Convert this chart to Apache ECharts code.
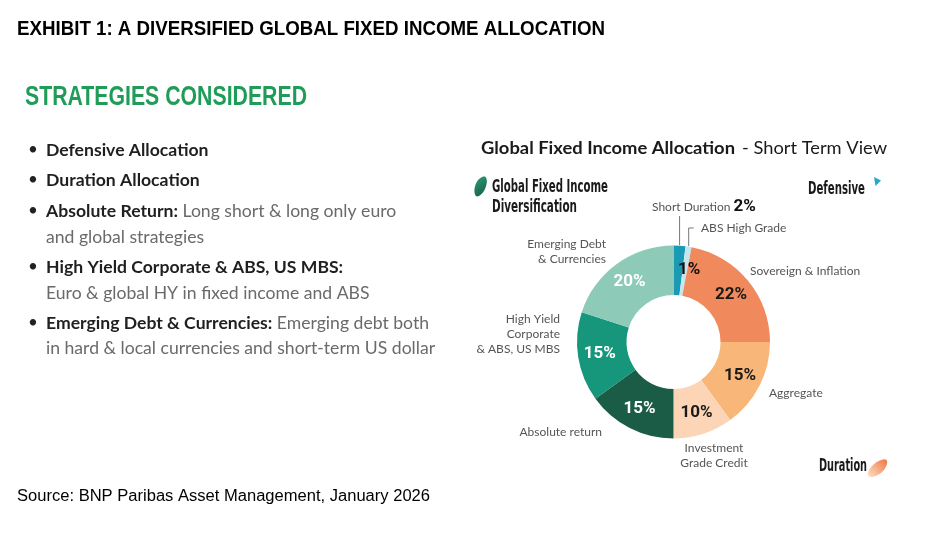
<!DOCTYPE html>
<html><head><meta charset="utf-8">
<script src="https://cdn.jsdelivr.net/npm/echarts@6/dist/echarts.min.js"></script>
<style>html,body{margin:0;padding:0;background:#fff}#c{width:940px;height:543px}</style>
</head><body><div id="c"></div>
<script>
// ---------- DATA ----------
const categories = ['Short Duration','ABS High Grade','Sovereign & Inflation','Aggregate','Investment Grade Credit','Absolute return','High Yield Corporate & ABS, US MBS','Emerging Debt & Currencies'];
const weights = [2, 1, 22, 15, 10, 15, 15, 20];
const labelText = ['Short Duration','ABS High Grade','Sovereign & Inflation','Aggregate','Investment\nGrade Credit','Absolute return','High Yield\nCorporate\n& ABS, US MBS','Emerging Debt\n& Currencies'];
const titleText = 'EXHIBIT 1: A DIVERSIFIED GLOBAL FIXED INCOME ALLOCATION';
const sectionText = 'STRATEGIES CONSIDERED';
const chartHeadBold = 'Global Fixed Income Allocation';
const chartHeadRegular = '- Short Term View';
const groupLabels = ['Global Fixed Income', 'Diversification'];
const defensiveText = 'Defensive';
const durationText = 'Duration';
const sourceText = 'Source: BNP Paribas Asset Management, January 2026';
const strategyLines = [
  ['Defensive Allocation', '', true],
  ['Duration Allocation', '', true],
  ['Absolute Return:', ' Long short & long only euro', true],
  ['', 'and global strategies', false],
  ['High Yield Corporate & ABS, US MBS:', '', true],
  ['', 'Euro & global HY in fixed income and ABS', false],
  ['Emerging Debt & Currencies:', ' Emerging debt both', true],
  ['', 'in hard & local currencies and short-term US dollar', false]
];

// ---------- STYLE / LAYOUT ----------
const colors = ['#1a9bb3','#c5e5ef','#f0895b','#f8b679','#fcd5b6','#1b5c47','#16967a','#8dcab8'];
const pctColors = ['#111','#111','#1a1a1a','#1a1a1a','#1a1a1a','#ffffff','#ffffff','#ffffff'];
const cx = 673.5, cy = 342, R0 = 47, R1 = 96.5;
const lineY = [150, 180, 211, 237, 267, 293, 323, 348];
const outerAnchor = [
  {x: 652, y: 207, align: 'left'},
  {x: 701, y: 228, align: 'left'},
  {x: 750, y: 271, align: 'left'},
  {x: 769, y: 393, align: 'left'},
  {x: 714, y: 456, align: 'center'},
  {x: 602, y: 432, align: 'right'},
  {x: 560, y: 334, align: 'right'},
  {x: 606, y: 252, align: 'right'}
];

const mctx = document.createElement('canvas').getContext('2d');
function hasFont(f) {
  const t = 'abcdefghijklmnopqrstuvwxyzABCDEFGHIJ0123456789%';
  let diff = false;
  ['monospace', 'serif'].forEach(b => {
    mctx.font = '72px ' + b; const w1 = mctx.measureText(t).width;
    mctx.font = "72px '" + f + "', " + b; const w2 = mctx.measureText(t).width;
    if (w1 !== w2) diff = true;
  });
  return diff;
}
const narrow = ['Liberation Sans Narrow','Arial Narrow','DejaVu Sans Condensed','Roboto Condensed'].find(hasFont) || 'Liberation Sans';
const sans = hasFont('Lato') ? 'Lato' : 'Liberation Sans';
const pctFont = hasFont('Roboto') ? 'Roboto' : 'Liberation Sans';

function fitScale(text, font, width) { mctx.font = font; return width / mctx.measureText(text).width; }
function fitText(text, x, y, width, font, fill) {
  return {type: 'text', x: x, y: y, scaleX: fitScale(text, font, width), silent: true,
    style: {text: text, font: font, fill: fill, align: 'left', verticalAlign: 'middle'}};
}
function grad(x, y, x2, y2, c1, c2) {
  return {type: 'linear', x: x, y: y, x2: x2, y2: y2, colorStops: [{offset: 0, color: c1}, {offset: 1, color: c2}]};
}

const graphics = [];
graphics.push(fitText(titleText, 17, 30, 588, "bold 19.5px 'Liberation Sans'", '#000'));
graphics.push(fitText(sectionText, 25, 98, 282, "bold 27px 'Liberation Sans'", '#1f9d58'));
graphics.push(fitText(sourceText, 17, 497, 413, "16px 'Liberation Sans'", '#000'));
graphics.push(fitText(chartHeadBold, 481, 149, 254, "bold 16.5px '" + sans + "'", '#1a1a1a'));
graphics.push(fitText(chartHeadRegular, 742, 149, 145, "16.5px '" + sans + "'", '#1a1a1a'));
graphics.push(fitText(groupLabels[0], 492, 188, 116, "bold 17px '" + narrow + "'", '#1a1a1a'));
graphics.push(fitText(groupLabels[1], 492, 208, 85, "bold 17px '" + narrow + "'", '#1a1a1a'));
graphics.push(fitText(defensiveText, 808, 190, 57, "bold 17px '" + narrow + "'", '#1a1a1a'));
graphics.push(fitText(durationText, 819, 467, 48, "bold 17px '" + narrow + "'", '#1a1a1a'));

strategyLines.forEach((ln, i) => {
  if (ln[2]) graphics.push({type: 'text', x: 28, y: lineY[i], silent: true,
    style: {text: '•', font: "17px '" + sans + "'", fill: '#222', align: 'left', verticalAlign: 'middle'}});
  let t = '';
  if (ln[0]) t += '{b|' + ln[0] + '}';
  if (ln[1]) t += '{r|' + ln[1] + '}';
  graphics.push({type: 'text', x: 46, y: lineY[i], silent: true,
    style: {text: t, align: 'left', verticalAlign: 'middle',
      rich: {b: {fontFamily: sans, fontWeight: 'bold', fontSize: 17.6, fill: '#1f1f1f'},
             r: {fontFamily: sans, fontSize: 17.6, fill: '#6a6a6a'}}}});
});

// icons
graphics.push({type: 'polygon', silent: true,
  shape: {points: [[485.5, 177], [476.5, 182.5], [476, 196], [484.5, 190]], smooth: 0.5},
  style: {fill: grad(0, 0, 1, 1, '#2f9c78', '#145c45')}});
graphics.push({type: 'polygon', silent: true, shape: {points: [[874, 177], [881, 180.5], [875.5, 186]]},
  style: {fill: '#2aa7c6'}});
graphics.push({type: 'polygon', silent: true,
  shape: {points: [[868.5, 476], [873.5, 464.5], [886.5, 460], [881.5, 472.5]], smooth: 0.5},
  style: {fill: grad(0, 1, 1, 0, '#fde0c8', '#ef7640')}});

const total = weights.reduce((a, b) => a + b, 0);
function midPoint(i, r) {
  let cum = 0; for (let k = 0; k < i; k++) cum += weights[k];
  const a = (cum + weights[i] / 2) / total * Math.PI * 2;
  return [cx + r * Math.sin(a), cy - r * Math.cos(a)];
}

const chart = echarts.init(document.getElementById('c'), null, {renderer: 'canvas'});
chart.setOption({
  backgroundColor: '#ffffff',
  animation: false,
  graphic: graphics,
  series: [
    {
      type: 'pie', name: 'allocation', center: [cx, cy], radius: [R0, R1], startAngle: 90, clockwise: true,
      avoidLabelOverlap: false, silent: true, emphasis: {disabled: true},
      label: {position: 'inside', formatter: '{c}%', fontFamily: pctFont, fontWeight: 'bold', fontSize: 17},
      labelLine: {show: false},
      data: categories.map((n, i) => ({name: n, value: weights[i], itemStyle: {color: colors[i]},
        label: {show: i !== 0, color: pctColors[i]}})),
      labelLayout: function (p) { return p.dataIndex === 1 ? {dx: 4, dy: 2} : {}; }
    },
    {
      type: 'pie', name: 'names', center: [cx, cy], radius: [R0, R1], startAngle: 90, clockwise: true,
      avoidLabelOverlap: false, silent: true, emphasis: {disabled: true},
      itemStyle: {color: 'rgba(0,0,0,0)'},
      label: {position: 'outside', color: '#555', fontFamily: sans, fontSize: 12, lineHeight: 15,
        rich: {n: {color: '#555', fontFamily: sans, fontSize: 12},
               p: {color: '#111', fontFamily: pctFont, fontWeight: 'bold', fontSize: 17}}},
      labelLine: {show: false, lineStyle: {color: '#777', width: 1}},
      data: categories.map((n, i) => ({name: n, value: weights[i],
        label: {formatter: i === 0 ? '{n|' + labelText[0] + '} {p|' + weights[0] + '%}' : labelText[i]},
        labelLine: {show: i <= 1}})),
      labelLayout: function (p) {
        const i = p.dataIndex, a = outerAnchor[i];
        const res = {x: a.x, y: a.y, align: a.align, verticalAlign: 'middle'};
        if (i === 0) {
          const s = midPoint(0, R1 + 0.5);
          res.labelLinePoints = [s, [s[0], a.y + 9], [s[0], a.y + 9]];
        } else if (i === 1) {
          const s = midPoint(1, R1 + 0.5);
          res.labelLinePoints = [s, [s[0], a.y], [s[0] + 5, a.y]];
        }
        return res;
      }
    }
  ]
});
</script>
</body></html>
